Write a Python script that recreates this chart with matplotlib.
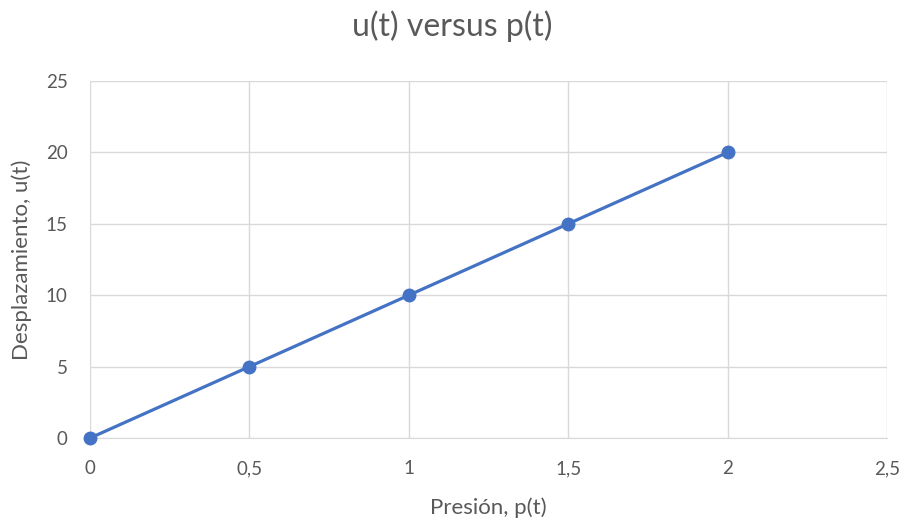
import matplotlib
matplotlib.use("Agg")
from matplotlib import pyplot as plt
from matplotlib.ticker import FuncFormatter

# data
presion = [0, 0.5, 1, 1.5, 2]
desplazamiento = [0, 5, 10, 15, 20]
x_ticks = [0, 0.5, 1, 1.5, 2, 2.5]
y_ticks = [0, 5, 10, 15, 20, 25]

BLUE = "#4472C4"
GRID = "#D9D9D9"
TEXT = "#595959"

plt.rcParams["font.family"] = ["Lato", "DejaVu Sans"]

fig = plt.figure(figsize=(9.05, 5.24), dpi=100)
ax = fig.add_axes([0.0994, 0.164, 0.8807, 0.6814])

ax.plot(presion, desplazamiento, color=BLUE, linewidth=2.3,
        marker="o", markersize=9, zorder=3, clip_on=False)

ax.set_xlim(x_ticks[0], x_ticks[-1])
ax.set_ylim(y_ticks[0], y_ticks[-1])
ax.set_xticks(x_ticks)
ax.set_yticks(y_ticks)

comma = FuncFormatter(lambda v, pos: ("%g" % v).replace(".", ","))
ax.xaxis.set_major_formatter(comma)
ax.yaxis.set_major_formatter(comma)

ax.grid(True, color=GRID, linewidth=1)
ax.set_axisbelow(True)
for side in ("top", "right", "left"):
    ax.spines[side].set_visible(False)
ax.spines["bottom"].set_color(GRID)
ax.tick_params(length=0, colors=TEXT, labelsize=13.5)
ax.tick_params(axis="x", pad=16)
ax.tick_params(axis="y", pad=16)

ax.set_xlabel("Presión, p(t)", color=TEXT, fontsize=16, va="center")
ax.xaxis.set_label_coords(0.5, -0.196)
ax.set_ylabel("Desplazamiento, u(t)", color=TEXT, fontsize=16, va="center")
ax.yaxis.set_label_coords(-0.086, 0.5)
fig.suptitle("u(t) versus p(t)", color=TEXT, fontsize=23, y=0.98)

fig.savefig("out.png", dpi=100)
